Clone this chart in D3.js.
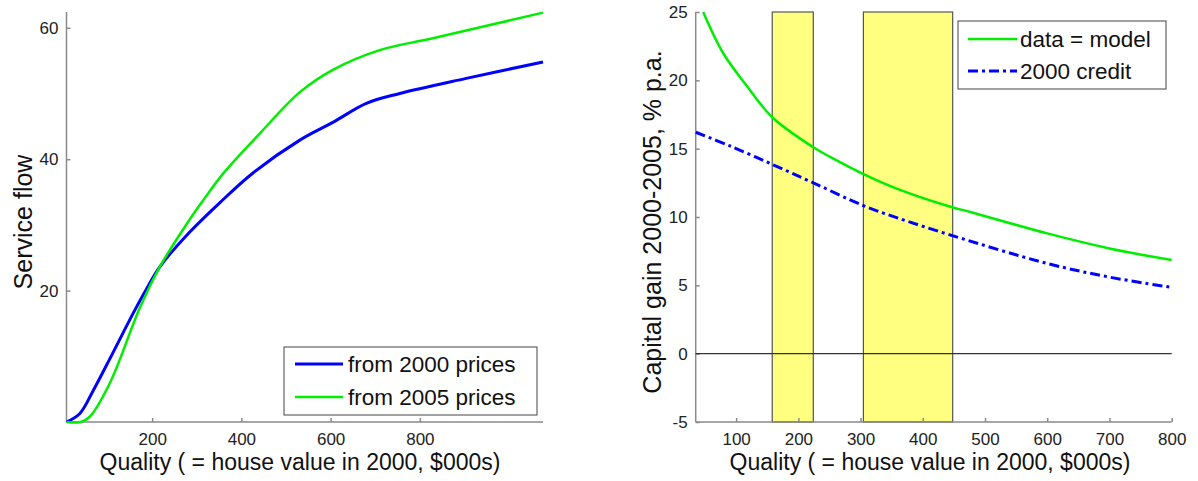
<!DOCTYPE html>
<head>
    <meta charset="utf-8">
    <title>Service flow and capital gain</title>
    <script src="https://cdnjs.cloudflare.com/ajax/libs/d3/7.8.5/d3.min.js"></script>
    <style>
    body { margin:0; background:white; }
    svg { font-family: "Liberation Sans", Arial, sans-serif; }
    .tick text { font-size:17px; fill:#222; }
    .axis path, .axis line { stroke:#8a8a8a; stroke-width:1.5; }
    .lab { font-size:23px; fill:#111; }
    .ylab { font-size:25px; fill:#111; }
    .leg { font-size:22.5px; fill:#111; }
    </style>
</head>
<body>
<div id='chart'></div>
<script>
// left panel: service flow against quality
var leftX     = [8, 38, 68, 105, 157, 187, 217, 277, 352, 426, 531, 605, 680, 755, 904, 1076];
var from2000  = [0, 1.3, 4.8, 9.6, 16.5, 20.2, 23.6, 28.4, 33.4, 37.9, 42.9, 45.6, 48.5, 50, 52.3, 54.8];
var leftX2    = [8, 40, 60, 105, 172, 217, 277, 314, 359, 441, 531, 605, 710, 829, 1076];
var from2005  = [0, 0, 0.8, 5.9, 17.3, 23.6, 30.1, 33.7, 37.8, 43.9, 50.2, 53.6, 56.6, 58.4, 62.3];
var leftXTicks = [200, 400, 600, 800];
var leftYTicks = [20, 40, 60];

// right panel: capital gain against quality
var rightX      = [47, 79, 117, 158, 224, 251, 303, 358, 446, 476, 600, 700, 800];
var dataModel   = [25, 22.0, 19.6, 17.3, 15.1, 14.4, 13.18, 12.08, 10.73, 10.37, 8.8, 7.7, 6.85];
var rightX2     = [35, 90, 158, 224, 303, 358, 446, 600, 700, 800];
var credit2000  = [16.2, 15.2, 13.85, 12.5, 10.86, 9.95, 8.66, 6.6, 5.6, 4.85];
var bands       = [[158, 224], [304.5, 448]];
var rightXTicks = [100, 200, 300, 400, 500, 600, 700, 800];
var rightYTicks = [-5, 0, 5, 10, 15, 20, 25];

var svg = d3.select('#chart').append('svg')
    .attr('width', 1198).attr('height', 481);

function zip(xs, ys) { return xs.map(function(x, i) { return [x, ys[i]]; }); }

function axes(g, x, y, xt, yt) {
    var h = y.range()[0], top = y.range()[1], left = x.range()[0];
    g.append('g').attr('class', 'axis').attr('transform', 'translate(0,' + h + ')')
        .call(d3.axisBottom(x).tickValues(xt).tickSize(-4).tickPadding(11).tickFormat(String));
    g.append('g').attr('class', 'axis').attr('transform', 'translate(' + left + ',0)')
        .call(d3.axisLeft(y).tickValues(yt).tickSize(-4).tickPadding(8).tickFormat(String));
    g.selectAll('.axis .domain').attr('d', null);
    g.append('line').attr('x1', left).attr('x2', x.range()[1]).attr('y1', h).attr('y2', h)
        .attr('stroke', '#8a8a8a').attr('stroke-width', 1.5);
    g.append('line').attr('x1', left).attr('x2', left).attr('y1', h).attr('y2', top)
        .attr('stroke', '#8a8a8a').attr('stroke-width', 1.5);
}

// ---- left
var xL = d3.scaleLinear().domain([8, 1076]).range([66.5, 543]);
var yL = d3.scaleLinear().domain([0, 62.4]).range([422, 12]);
var gL = svg.append('g');
axes(gL, xL, yL, leftXTicks, leftYTicks);

var lineL = d3.line().x(function(d) { return xL(d[0]); }).y(function(d) { return yL(d[1]); })
    .curve(d3.curveCatmullRom.alpha(0.5));
gL.append('path').attr('d', lineL(zip(leftX, from2000)))
    .attr('fill', 'none').attr('stroke', '#0000ff').attr('stroke-width', 3);
gL.append('path').attr('d', lineL(zip(leftX2, from2005)))
    .attr('fill', 'none').attr('stroke', '#00ee00').attr('stroke-width', 2.5);

gL.append('text').attr('class', 'lab').attr('x', 300).attr('y', 470).attr('text-anchor', 'middle')
    .text('Quality ( = house value in 2000, $000s)');
gL.append('text').attr('class', 'ylab').attr('transform', 'translate(32,222) rotate(-90)')
    .attr('text-anchor', 'middle').text('Service flow');

var legL = gL.append('g');
legL.append('rect').attr('x', 284).attr('y', 347).attr('width', 253).attr('height', 68)
    .attr('fill', 'white').attr('stroke', '#444').attr('stroke-width', 1);
[['from 2000 prices', '#0000ff', 3, 364], ['from 2005 prices', '#00ee00', 2.5, 397]].forEach(function(e) {
    legL.append('line').attr('x1', 295).attr('x2', 343).attr('y1', e[3]).attr('y2', e[3])
        .attr('stroke', e[1]).attr('stroke-width', e[2]);
    legL.append('text').attr('class', 'leg').attr('x', 348).attr('y', e[3] + 8).text(e[0]);
});

// ---- right
var xR = d3.scaleLinear().domain([35, 800]).range([695.7, 1171.7]);
var yR = d3.scaleLinear().domain([-5, 25]).range([422, 12]);
var gR = svg.append('g');

gR.selectAll('rect.band').data(bands).enter().append('rect').attr('class', 'band')
    .attr('x', function(d) { return xR(d[0]); })
    .attr('width', function(d) { return xR(d[1]) - xR(d[0]); })
    .attr('y', yR(25)).attr('height', yR(-5) - yR(25))
    .attr('fill', '#ffff80').attr('stroke', '#555').attr('stroke-width', 1.2);

axes(gR, xR, yR, rightXTicks, rightYTicks);

gR.append('line').attr('x1', xR(35)).attr('x2', xR(800)).attr('y1', yR(0)).attr('y2', yR(0))
    .attr('stroke', '#333').attr('stroke-width', 1.2);

var lineR = d3.line().x(function(d) { return xR(d[0]); }).y(function(d) { return yR(d[1]); })
    .curve(d3.curveCatmullRom.alpha(0.5));
gR.append('path').attr('d', lineR(zip(rightX, dataModel)))
    .attr('fill', 'none').attr('stroke', '#00ee00').attr('stroke-width', 2.5);
gR.append('path').attr('d', lineR(zip(rightX2, credit2000)))
    .attr('fill', 'none').attr('stroke', '#0000ff').attr('stroke-width', 3)
    .attr('stroke-dasharray', '10,4,3,4');

gR.append('text').attr('class', 'lab').attr('x', 930).attr('y', 470).attr('text-anchor', 'middle')
    .text('Quality ( = house value in 2000, $000s)');
gR.append('text').attr('class', 'ylab').attr('transform', 'translate(661,222) rotate(-90)')
    .attr('text-anchor', 'middle').text('Capital gain 2000-2005, % p.a.');

var legR = gR.append('g');
legR.append('rect').attr('x', 958).attr('y', 21).attr('width', 208).attr('height', 68)
    .attr('fill', 'white').attr('stroke', '#444').attr('stroke-width', 1);
[['data = model', '#00ee00', 2.5, 39, null], ['2000 credit', '#0000ff', 3, 71, '10,4,3,4']].forEach(function(e) {
    legR.append('line').attr('x1', 968).attr('x2', 1017).attr('y1', e[3]).attr('y2', e[3])
        .attr('stroke', e[1]).attr('stroke-width', e[2]).attr('stroke-dasharray', e[4]);
    legR.append('text').attr('class', 'leg').attr('x', 1020).attr('y', e[3] + 8).text(e[0]);
});
</script>
</body>
</html>
